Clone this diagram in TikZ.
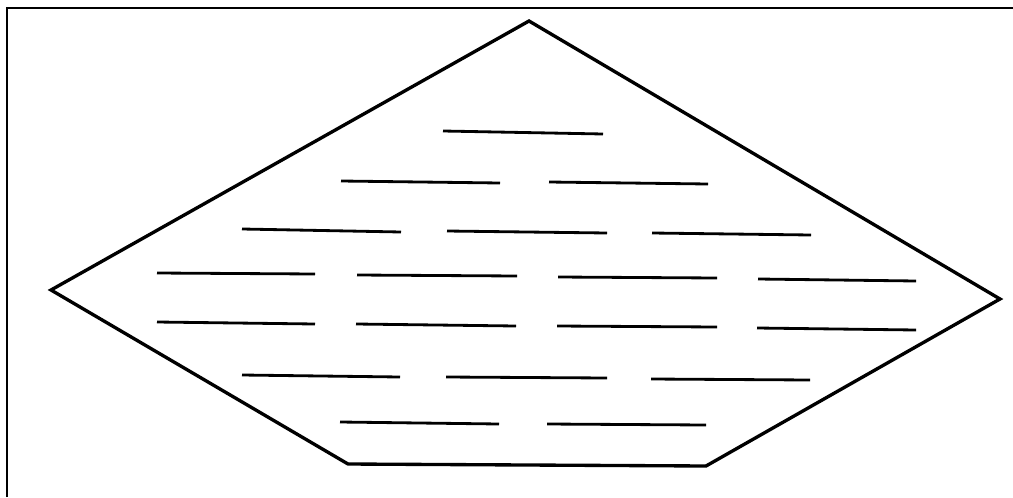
\documentclass[tikz,border=0pt]{standalone}
\begin{document}
\begin{tikzpicture}[x=0.02cm,y=-0.02cm,
  outline/.style={line width=1.9pt,line join=miter},
  dashline/.style={line width=1.6pt},
  frameline/.style={line width=1.3pt}]
\useasboundingbox (0,0) rectangle (1013,497);
% partial frame
\coordinate (f1) at (7,497);
\coordinate (f2) at (7,8);
\coordinate (f3) at (1013,8);
\draw[frameline] (f1) -- (f2) -- (f3);
% pentagon
\coordinate (top) at (529,21);
\coordinate (rt) at (1000,299);
\coordinate (br) at (706,466);
\coordinate (bl) at (348,464);
\coordinate (lt) at (51,290);
\draw[outline] (top) -- (rt) -- (br) -- (bl) -- (lt) -- cycle;
% horizontal strokes
\foreach \xa/\ya/\xb/\yb [count=\i] in {
  443/131/603/134,
  341/181/500/183, 549/182/708/184,
  242/229/401/232, 447/231/607/233, 652/233/811/235,
  157/273/315/274, 357/275/517/276, 558/277/717/278, 758/279/916/281,
  157/322/315/324, 356/324/516/326, 557/326/717/327, 757/328/916/330,
  242/375/400/377, 446/377/607/378, 651/379/810/380,
  340/422/499/424, 547/424/706/425} {
  \coordinate (s\i a) at (\xa,\ya);
  \coordinate (s\i b) at (\xb,\yb);
  \draw[dashline] (s\i a) -- (s\i b);
}
\end{tikzpicture}
\end{document}
